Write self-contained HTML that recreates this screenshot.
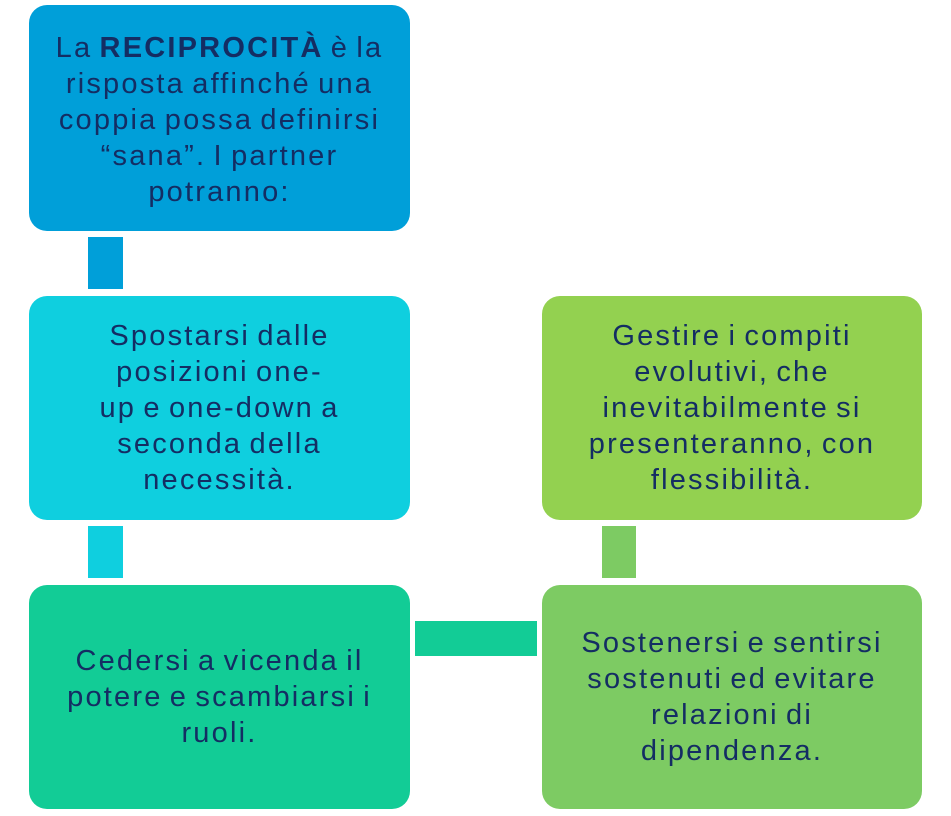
<!DOCTYPE html>
<html><head><meta charset="utf-8"><style>
html,body{margin:0;padding:0;background:#fff;width:951px;height:816px;overflow:hidden}
.b{position:absolute;border-radius:18px;display:flex;align-items:center;justify-content:center;text-align:center;color:#142d63;font-family:"Liberation Sans",sans-serif;font-size:29px;letter-spacing:2.2px;word-spacing:-3px;line-height:36px;box-sizing:border-box;padding:0 2px;white-space:nowrap}
.c{position:absolute}
</style></head><body>
<div class="b" style="left:29px;top:5px;width:381px;height:226px;background:#009fd9;padding-top:4px">
<div>La <b>RECIPROCITÀ</b> è la<br>risposta affinché una<br>coppia possa definirsi<br>“sana”. I partner<br>potranno:</div></div>
<div class="c" style="left:88px;top:237px;width:35px;height:52px;background:#009fd9"></div>
<div class="b" style="left:29px;top:296px;width:381px;height:224px;background:#0fcfdf">
<div>Spostarsi dalle<br>posizioni one-<br>up e one-down a<br>seconda della<br>necessità.</div></div>
<div class="c" style="left:88px;top:526px;width:35px;height:52px;background:#0fcfdf"></div>
<div class="b" style="left:29px;top:585px;width:381px;height:224px;background:#12cc96">
<div>Cedersi a vicenda il<br>potere e scambiarsi i<br>ruoli.</div></div>
<div class="c" style="left:415px;top:621px;width:122px;height:35px;background:#12cc96"></div>
<div class="b" style="left:542px;top:585px;width:380px;height:224px;background:#7dcb63">
<div>Sostenersi e sentirsi<br>sostenuti ed evitare<br>relazioni di<br>dipendenza.</div></div>
<div class="c" style="left:602px;top:526px;width:34px;height:52px;background:#7dcb63"></div>
<div class="b" style="left:542px;top:296px;width:380px;height:224px;background:#93d150">
<div>Gestire i compiti<br>evolutivi, che<br>inevitabilmente si<br>presenteranno, con<br>flessibilità.</div></div>
</body></html>
